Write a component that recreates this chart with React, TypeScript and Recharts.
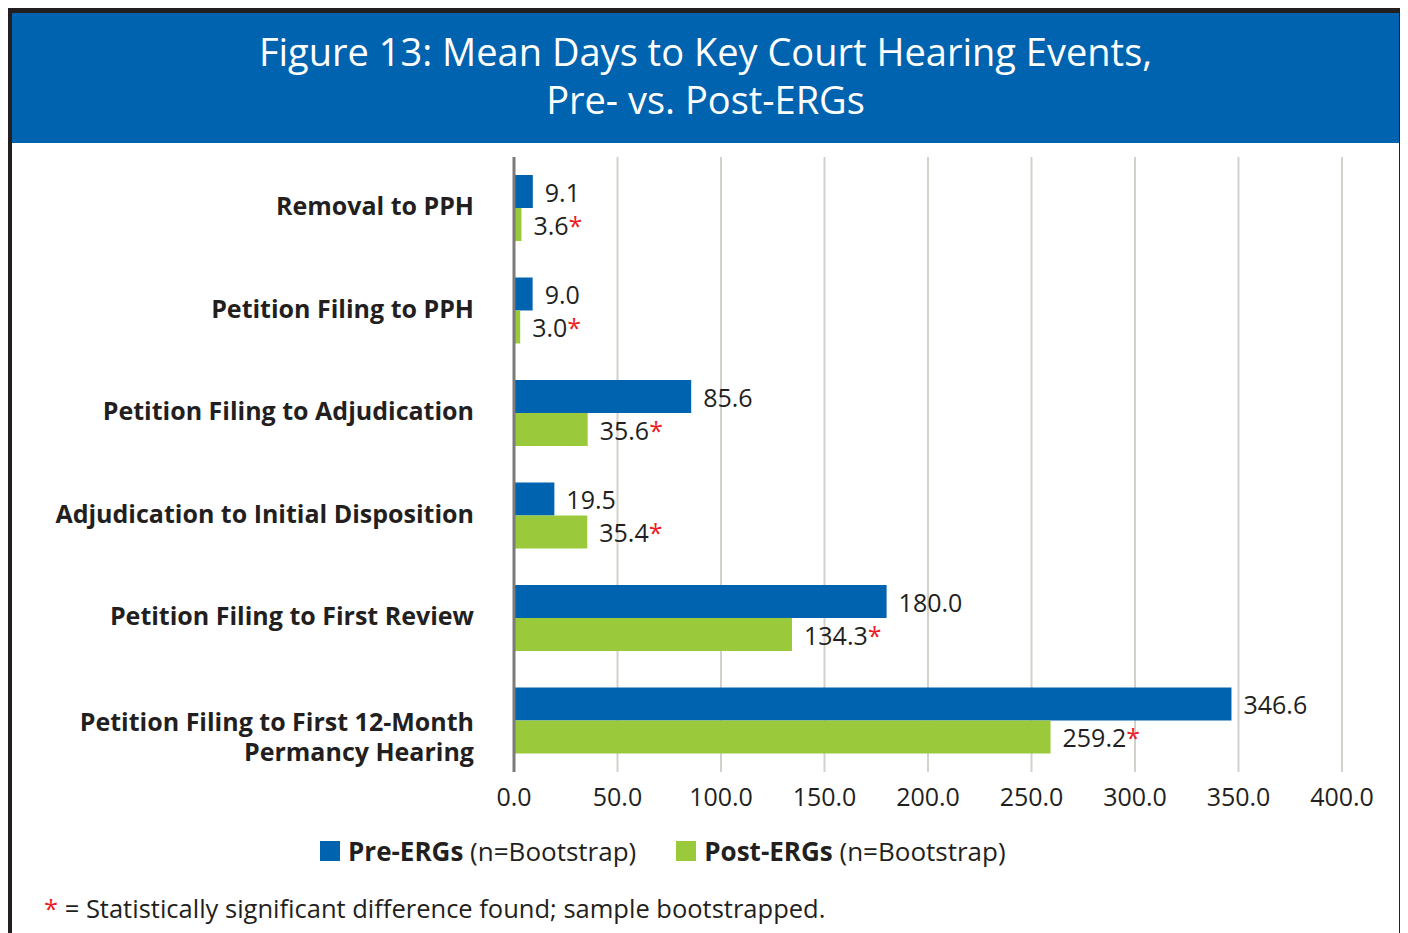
import { BarChart, Bar, XAxis, YAxis, CartesianGrid, LabelList } from 'recharts';

const categories = [
  'Removal to PPH',
  'Petition Filing to PPH',
  'Petition Filing to Adjudication',
  'Adjudication to Initial Disposition',
  'Petition Filing to First Review',
  'Petition Filing to First 12-Month\nPermancy Hearing',
];
const preErgs = [9.1, 9.0, 85.6, 19.5, 180.0, 346.6];
const postErgs = [3.6, 3.0, 35.6, 35.4, 134.3, 259.2];
const significant = [true, true, true, true, true, true];
const xTicks = [0, 50, 100, 150, 200, 250, 300, 350, 400];

const BLUE = '#0063af';
const GREEN = '#9aca3c';
const TEXT = '#231f20';
const FONT = '"Open Sans", "Noto Sans", sans-serif';

const data = categories.map((name, i) => ({
  name,
  pre: preErgs[i],
  post: postErgs[i],
  sig: significant[i],
}));

const CategoryTick = ({ x, y, payload }: any) => {
  const lines = String(payload.value).split('\n');
  return (
    <text x={x - 32} y={y} textAnchor='end' fill={TEXT} fontSize={25} fontWeight={700} fontFamily={FONT}>
      {lines.map((line, i) => (
        <tspan key={i} x={x - 32} dy={i === 0 ? (lines.length > 1 ? 0 : -3) : 30} dominantBaseline='central'>
          {line}
        </tspan>
      ))}
    </text>
  );
};

const ValueTick = ({ x, y, payload }: any) => (
  <text x={x} y={y + 24} textAnchor='middle' dominantBaseline='central' fill={TEXT} fontSize={25} fontFamily={FONT}>
    {Number(payload.value).toFixed(1)}
  </text>
);

const makeLabel = (withStar: boolean) => (props: any) => {
  const { x, y, width, height, value, index } = props;
  return (
    <text
      x={x + width + 12}
      y={y + height / 2}
      dominantBaseline='central'
      fill={TEXT}
      fontSize={25}
      fontFamily={FONT}
    >
      {Number(value).toFixed(1)}
      {withStar && data[index].sig ? <tspan fill='#ee1c25'>*</tspan> : null}
    </text>
  );
};

const LegendItem = ({ color, bold, rest, first }: { color: string; bold: string; rest: string; first?: boolean }) => (
  <div style={{ display: 'flex', alignItems: 'center', marginLeft: first ? 0 : 40 }}>
    <div style={{ width: 20, height: 20, background: color, marginRight: 8 }} />
    <span style={{ fontWeight: 700 }}>{bold}</span>
    <span>&nbsp;{rest}</span>
  </div>
);

export default function App() {
  return (
    <div
      style={{
        position: 'relative',
        marginLeft: -1,
        width: 1397,
        height: 925,
        borderTop: `5px solid ${TEXT}`,
        borderLeft: `5px solid ${TEXT}`,
        borderRight: `5px solid ${TEXT}`,
        boxSizing: 'border-box',
        background: '#fff',
        fontFamily: FONT,
        color: TEXT,
        overflow: 'hidden',
      }}
    >
      <div
        style={{
          position: 'absolute',
          left: 0,
          top: 0,
          width: '100%',
          height: 130,
          background: BLUE,
          color: '#fff',
          textAlign: 'center',
          fontSize: 38,
          lineHeight: '48px',
          paddingTop: 14,
          boxSizing: 'border-box',
        }}
      >
        Figure 13: Mean Days to Key Court Hearing Events,
        <br />
        Pre‑ vs. Post‑ERGs
      </div>

      <div style={{ position: 'absolute', left: 0, top: 130 }}>
        <BarChart
          width={1387}
          height={700}
          data={data}
          layout='vertical'
          margin={{ top: 14, right: 57, bottom: 31, left: 0 }}
          barSize={33}
          barGap={0}
        >
          <CartesianGrid horizontal={false} stroke='#d4d1cc' strokeWidth={2} />
          <XAxis
            type='number'
            domain={[0, 400]}
            ticks={xTicks}
            axisLine={false}
            tickLine={false}
            tickSize={0}
            tickMargin={0}
            height={40}
            interval={0}
            tick={<ValueTick />}
          />
          <YAxis
            type='category'
            dataKey='name'
            width={502}
            axisLine={{ stroke: '#7d7b78', strokeWidth: 3 }}
            tickLine={false}
            tick={<CategoryTick />}
            interval={0}
          />
          <Bar dataKey='pre' fill={BLUE} isAnimationActive={false}>
            <LabelList dataKey='pre' content={makeLabel(false)} />
          </Bar>
          <Bar dataKey='post' fill={GREEN} isAnimationActive={false}>
            <LabelList dataKey='post' content={makeLabel(true)} />
          </Bar>
        </BarChart>
      </div>

      <div
        style={{
          position: 'absolute',
          left: 308,
          top: 823,
          height: 30,
          display: 'flex',
          alignItems: 'center',
          fontSize: 26,
          whiteSpace: 'nowrap',
        }}
      >
        <LegendItem first color={BLUE} bold='Pre-ERGs' rest='(n=Bootstrap)' />
        <LegendItem color={GREEN} bold='Post-ERGs' rest='(n=Bootstrap)' />
      </div>

      <div
        style={{
          position: 'absolute',
          left: 32,
          top: 880,
          fontSize: 25.5,
          lineHeight: '30px',
          whiteSpace: 'nowrap',
        }}
      >
        <span style={{ color: '#ee1c25' }}>*</span> = Statistically significant difference found; sample bootstrapped.
      </div>
    </div>
  );
}
